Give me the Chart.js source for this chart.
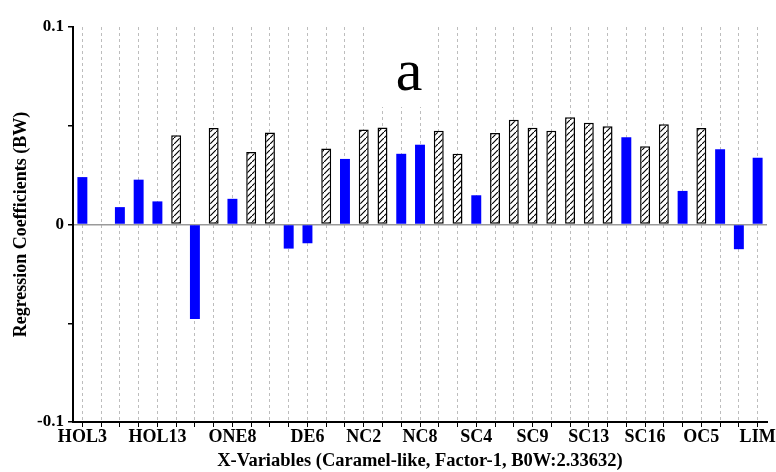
<!DOCTYPE html>
<html lang="en">
<head>
    <meta charset="UTF-8">
    <title>Regression Coefficients (BW)</title>
    <script src="https://cdn.jsdelivr.net/npm/chart.js"></script>
    <style>
        body {
            margin: 0;
            padding: 0;
            background-color: #ffffff;
        }

        .chart-box {
            width: 776px;
            height: 472px;
        }
    </style>
</head>
<body>
    <div class="chart-box">
        <canvas id="coef-chart" width="776" height="472"></canvas>
    </div>

    <script>
        // Variables along the x axis (only every few names are printed on the original)
        const variables = [
            'HOL3', '', '', '', 'HOL13', '', '', '', 'ONE8', '', '', '', 'DE6',
            '', '', 'NC2', '', '', 'NC8', '', '', 'SC4', '', '', 'SC9', '', '',
            'SC13', '', '', 'SC16', '', '', 'OC5', '', '', 'LIM'
        ];

        // Regression coefficients
        const coefficients = [
            0.024, 0.0, 0.0088, 0.0227, 0.0117, 0.0452, -0.0479, 0.0489, 0.013, 0.0367,
            0.0466, -0.0122, -0.0095, 0.0385, 0.0332, 0.0481, 0.0491, 0.0358, 0.0404, 0.0475,
            0.0358, 0.0148, 0.0463, 0.053, 0.049, 0.0475, 0.0543, 0.0515, 0.0498, 0.0442,
            0.0396, 0.0508, 0.017, 0.0488, 0.0381, -0.0125, 0.0338
        ];

        // true = hatched bar, false = solid blue bar
        const hatched = [
            false, false, false, false, false, true, false, true, false, true,
            true, false, false, true, false, true, true, false, false, true,
            true, false, true, true, true, true, true, true, true, false,
            true, true, false, true, false, false, false
        ];

        const yTicks = [-0.1, 0, 0.1];

        // Diagonal hatch pattern for the white bars
        const makeHatch = () => {
            const s = 6;
            const tile = document.createElement('canvas');
            tile.width = s;
            tile.height = s;
            const c = tile.getContext('2d');
            c.fillStyle = '#ffffff';
            c.fillRect(0, 0, s, s);
            c.strokeStyle = '#000000';
            c.lineWidth = 1.2;
            c.beginPath();
            c.moveTo(-1, s + 1); c.lineTo(s + 1, -1);
            c.moveTo(-s - 1, 1); c.lineTo(1, -s - 1);
            c.moveTo(s - 1, 2 * s + 1); c.lineTo(2 * s + 1, s - 1);
            c.stroke();
            return c.createPattern(tile, 'repeat');
        };

        const ctx = document.getElementById('coef-chart').getContext('2d');
        const hatch = makeHatch();

        // Panel letter "a" on a white box
        const panelLetter = {
            id: 'panelLetter',
            afterDatasetsDraw(chart) {
                const c = chart.ctx;
                c.save();
                c.fillStyle = '#ffffff';
                c.fillRect(367, 20, 69, 87);
                c.fillStyle = '#000000';
                c.font = '60px "Liberation Serif", serif';
                c.textAlign = 'center';
                c.textBaseline = 'alphabetic';
                c.fillText('a', 409, 90);
                c.restore();
            }
        };

        new Chart(ctx, {
            type: 'bar',
            data: {
                labels: variables,
                datasets: [{
                    label: 'Coefficient',
                    data: coefficients,
                    backgroundColor: hatched.map(h => h ? hatch : '#0000ff'),
                    borderColor: hatched.map(h => h ? '#000000' : '#0000ff'),
                    borderWidth: hatched.map(h => h ? 1.5 : 0),
                    borderSkipped: false,
                    barPercentage: 0.53,
                    categoryPercentage: 1.0
                }]
            },
            options: {
                responsive: false,
                animation: false,
                layout: {
                    padding: { top: 27, right: 9, left: 0, bottom: 0 }
                },
                plugins: {
                    legend: { display: false },
                    tooltip: { enabled: false }
                },
                scales: {
                    x: {
                        offset: true,
                        afterFit: (scale) => { scale.height = 50; },
                        grid: {
                            offset: false,
                            color: '#bdbdbd',
                            lineWidth: 1,
                            tickColor: '#000000',
                            tickLength: 5
                        },
                        // dash here styles the vertical grid lines
                        border: { color: '#000000', width: 2, dash: [3, 3] },
                        ticks: {
                            autoSkip: false,
                            maxRotation: 0,
                            padding: 0,
                            color: '#000000',
                            font: { family: '"Liberation Serif", serif', size: 18, weight: 'bold' }
                        },
                        title: {
                            display: true,
                            text: 'X-Variables (Caramel-like, Factor-1, B0W:2.33632)',
                            color: '#000000',
                            padding: { top: 0, bottom: 0 },
                            font: { family: '"Liberation Serif", serif', size: 18.5, weight: 'bold' }
                        }
                    },
                    y: {
                        min: -0.1,
                        max: 0.1,
                        afterFit: (scale) => { scale.width = 73; },
                        grid: {
                            color: (c) => (c.tick && c.tick.value === 0) ? '#9a9a9a' : 'rgba(0,0,0,0)',
                            lineWidth: 1.5,
                            tickColor: '#000000',
                            tickLength: 5
                        },
                        border: { color: '#000000', width: 2 },
                        ticks: {
                            stepSize: 0.05,
                            padding: 4,
                            color: '#000000',
                            font: { family: '"Liberation Serif", serif', size: 17, weight: 'bold' },
                            callback: (v) => {
                                const r = Math.round(v * 10) / 10;
                                return (yTicks.includes(r) && Math.abs(v - r) < 1e-9) ? String(r) : '';
                            }
                        },
                        title: {
                            display: true,
                            text: 'Regression Coefficients (BW)',
                            color: '#000000',
                            padding: { top: 11, bottom: 0 },
                            font: { family: '"Liberation Serif", serif', size: 18, weight: 'bold' }
                        }
                    }
                }
            },
            plugins: [panelLetter]
        });
    </script>
</body>
</html>
